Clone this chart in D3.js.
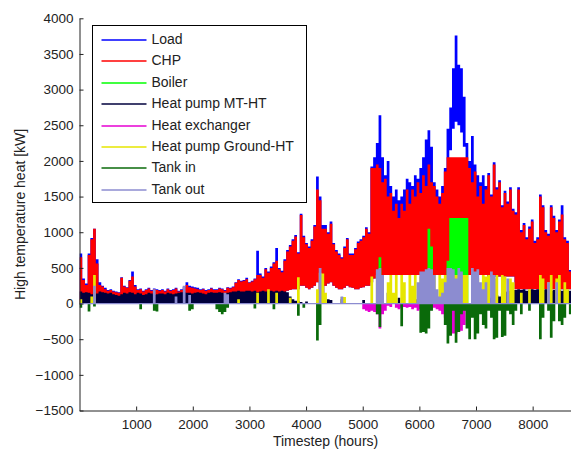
<!DOCTYPE html>
<html>
<head>
<meta charset="utf-8">
<script src="https://cdn.jsdelivr.net/npm/d3@7"></script>
<style>
  body { margin: 0; background: #fff; }
  svg { display: block; font-family: "Liberation Sans", Arial, sans-serif; }
  .axis text { font-size: 13.5px; fill: #222; }
  .axis path, .axis line { stroke: #222; }
</style>
</head>
<body>
<svg width="571" height="450"></svg>
<script>
// hourly data, one value per 48 h block (max / min of the block)
var STEP = 48;

var loadHigh = [
  700, 350, 280, 700, 920, 1050, 620, 300, 250, 220,
  190, 200, 180, 170, 160, 370, 250, 230, 330, 450,
  260, 200, 210, 180, 200, 220, 190, 210, 200, 190,
  200, 180, 210, 190, 200, 220, 180, 200, 240, 300,
  250, 240, 230, 220, 200, 210, 190, 200, 220, 200,
  200, 220, 210, 190, 230, 220, 240, 300, 340, 320,
  330, 360, 300, 320, 350, 740, 420, 380, 500, 450,
  520, 580, 780, 500, 460, 620, 750, 820, 900, 960,
  720, 1260, 950, 850, 800, 900, 1100, 1780, 1500, 1100,
  1100, 1000, 1150, 850, 750, 700, 650, 800, 920, 700,
  700, 780, 870, 900, 950, 1070, 1000, 1920, 2050, 2250,
  2640, 2050, 1800, 2000, 1650, 1500, 1600, 1450, 1500, 1600,
  1750, 1700, 1650, 1800, 1750, 1900, 2050, 2300, 2430, 2200,
  1700, 1600, 1500, 1650, 1900, 2450, 2750, 3300, 3760, 3350,
  3300, 2900, 2250, 2000, 2350, 1950, 1800, 1700, 1800, 1650,
  1830, 1530, 1980, 1630, 1730, 1380, 1580, 1430, 1630, 1330,
  1280, 1630, 1030, 1130, 930, 1080, 1180, 880, 930, 1530,
  1380, 1030, 980, 1380, 1230, 1030, 1180, 1380, 930, 880,
  470, 320, 270
];
var loadLow = [
  0, 0, 0, 0, 0, 0, 0, 0, 0, 0,
  0, 0, 0, 0, 0, 0, 0, 0, 0, 0,
  0, 0, 0, 0, 0, 0, 0, 0, 0, 0,
  0, 0, 0, 0, 0, 0, 0, 0, 0, 0,
  0, 0, 0, 0, 0, 0, 0, 0, 0, 0,
  0, 0, 0, 0, 0, 0, 0, 0, 0, 0,
  0, 0, 0, 0, 0, 0, 0, 0, 0, 0,
  0, 0, 0, 0, 100, 150, 180, 190, 200, 200,
  200, 250, 250, 220, 200, 220, 250, 300, 0, 0,
  250, 280, 300, 250, 220, 200, 200, 220, 250, 230,
  220, 200, 200, 220, 230, 250, 250, 300, 350, 400,
  400, 400, 400, 400, 400, 400, 400, 400, 400, 400,
  400, 400, 400, 400, 400, 400, 400, 400, 400, 400,
  400, 400, 400, 400, 400, 400, 2150, 2450, 2550, 2500,
  2400, 2200, 400, 400, 400, 400, 400, 400, 400, 400,
  380, 380, 380, 380, 380, 380, 380, 380, 380, 380,
  200, 200, 200, 200, 200, 200, 200, 200, 200, 200,
  200, 200, 200, 200, 200, 200, 200, 200, 200, 200,
  200, 200, 200
];
var chpHigh = [
  650, 330, 260, 680, 900, 1050, 560, 260, 240, 200,
  180, 190, 170, 160, 150, 360, 240, 220, 320, 380,
  240, 190, 200, 170, 190, 210, 180, 200, 190, 180,
  190, 170, 200, 180, 190, 210, 170, 190, 230, 260,
  230, 220, 210, 200, 190, 200, 180, 190, 210, 190,
  190, 210, 200, 180, 220, 210, 230, 290, 330, 310,
  320, 340, 290, 310, 340, 400, 400, 360, 480, 430,
  500, 560, 600, 480, 440, 600, 730, 800, 880, 940,
  700, 1240, 930, 830, 780, 880, 1080, 1600, 1450, 1050,
  1050, 980, 1120, 830, 730, 680, 630, 780, 900, 680,
  680, 760, 850, 880, 930, 1050, 980, 1900, 1900, 1950,
  1900, 1700, 1750, 1500, 1550, 1300, 1400, 1200, 1400, 1300,
  1600, 1400, 1600, 1500, 1700, 1550, 1800, 1650, 1950, 1700,
  1650, 1500, 1400, 1550, 1850, 2050, 2050, 2050, 2050, 2050,
  2050, 2050, 2050, 1900, 1700, 1850, 1500, 1650, 1400, 1600,
  1800, 1500, 1950, 1600, 1700, 1350, 1550, 1400, 1600, 1300,
  1250, 1600, 1000, 1100, 900, 1050, 1150, 850, 900, 1500,
  1350, 1000, 950, 1350, 1200, 1000, 1150, 1250, 900, 850,
  450, 300, 250
];
var chpLow = [
  0, 0, 0, 0, 0, 0, 0, 0, 0, 0,
  0, 0, 0, 0, 0, 0, 0, 0, 0, 0,
  0, 0, 0, 0, 0, 0, 0, 0, 0, 0,
  0, 0, 0, 0, 0, 0, 0, 0, 0, 0,
  0, 0, 0, 0, 0, 0, 0, 0, 0, 0,
  0, 0, 0, 0, 0, 0, 0, 0, 0, 0,
  0, 0, 0, 0, 0, 0, 0, 0, 0, 0,
  0, 0, 0, 0, 100, 150, 180, 190, 200, 200,
  200, 250, 250, 220, 200, 220, 250, 300, 0, 0,
  250, 280, 300, 250, 220, 200, 200, 220, 250, 230,
  220, 200, 200, 220, 230, 250, 250, 300, 350, 400,
  400, 400, 400, 400, 400, 400, 400, 400, 400, 400,
  400, 400, 400, 400, 400, 400, 400, 400, 400, 400,
  400, 400, 400, 400, 400, 400, 400, 400, 400, 400,
  400, 400, 400, 400, 400, 400, 400, 400, 400, 400,
  380, 380, 380, 380, 380, 380, 380, 380, 380, 380,
  200, 200, 200, 200, 200, 200, 200, 200, 200, 200,
  200, 200, 200, 200, 200, 200, 200, 200, 200, 200,
  200, 200, 200
];
var boiler = [
  0, 0, 0, 0, 0, 0, 0, 0, 0, 0,
  0, 0, 0, 0, 0, 0, 0, 0, 0, 0,
  0, 0, 0, 0, 0, 0, 0, 0, 0, 0,
  0, 0, 0, 0, 0, 0, 0, 0, 0, 0,
  0, 0, 0, 0, 0, 0, 0, 0, 0, 0,
  0, 0, 0, 0, 0, 0, 0, 0, 0, 0,
  0, 0, 0, 0, 0, 0, 0, 0, 0, 0,
  0, 0, 0, 0, 0, 0, 0, 0, 0, 0,
  0, 0, 0, 0, 0, 0, 0, 0, 0, 0,
  0, 0, 0, 0, 0, 0, 0, 0, 0, 0,
  0, 0, 0, 0, 0, 0, 0, 0, 0, 0,
  650, 0, 0, 0, 0, 0, 0, 0, 0, 0,
  0, 0, 0, 0, 0, 0, 0, 0, 1050, 800,
  0, 0, 0, 0, 0, 600, 1200, 1200, 1200, 1200,
  1200, 1200, 1200, 0, 0, 0, 0, 0, 0, 0,
  0, 0, 0, 0, 0, 0, 0, 0, 0, 0,
  0, 0, 0, 0, 0, 0, 0, 0, 0, 0,
  0, 0, 0, 0, 0, 0, 0, 0, 0, 0,
  0, 0, 0
];
var hpMtHt = [
  170, 150, 160, 150, 130, 120, 140, 170, 160, 150,
  140, 150, 130, 120, 110, 130, 150, 140, 160, 150,
  130, 150, 140, 120, 130, 150, 140, 120, 130, 140,
  140, 130, 150, 140, 130, 140, 150, 160, 160, 150,
  150, 140, 150, 160, 150, 140, 130, 150, 160, 150,
  150, 160, 150, 140, 150, 160, 170, 170, 180, 170,
  170, 180, 180, 170, 180, 160, 170, 180, 170, 180,
  180, 170, 180, 170, 180, 170, 160, 100, 60, 40,
  40, 20, 0, 30, 0, 0, 0, 20, 0, 0,
  0, 60, 50, 0, 0, 0, 60, 0, 0, 0,
  0, 0, 0, 0, 50, 0, 0, 0, 0, 0,
  0, 0, 0, 150, 0, 0, 0, 80, 0, 0,
  0, 0, 80, 60, 0, 0, 0, 0, 0, 60,
  0, 0, 0, 0, 0, 0, 0, 0, 0, 0,
  0, 0, 0, 0, 0, 0, 0, 0, 0, 60,
  0, 80, 100, 120, 100, 140, 160, 170, 180, 190,
  190, 200, 190, 200, 180, 190, 200, 190, 200, 180,
  190, 200, 190, 180, 190, 200, 190, 180, 200, 190,
  180, 170, 150
];
var heatExchanger = [
  0, 0, 0, 0, 0, 0, 0, 0, 0, 0,
  0, 0, 0, 0, 0, 0, 0, 0, 0, 0,
  0, 0, 0, 0, 0, 0, 0, 0, 0, 0,
  0, 0, 0, 0, 0, 0, 0, 0, 0, 0,
  0, 0, 0, 0, 0, 0, 0, 0, 0, 0,
  0, 0, 0, 0, 0, 0, 0, 0, 0, 0,
  0, 0, 0, 0, 0, 0, 0, 0, 0, 0,
  0, 0, 0, 0, 0, 0, 0, 0, 0, 0,
  0, 0, 0, 0, 0, 0, 0, 0, 0, 0,
  0, 0, 0, 0, 0, 0, 0, 0, 0, 0,
  0, 0, 0, 0, -80, -100, -120, -100, -120, -150,
  -350, -150, -100, -30, -50, 0, -60, -80, -60, -50,
  -60, -50, -80, -60, -100, -80, -100, -60, -50, -80,
  -60, -80, -100, -150, -200, -300, -400, -420, -420, -400,
  -380, -300, -100, -50, -30, -40, -60, -30, -50, -40,
  -30, -50, -20, -40, -30, -20, -50, -30, -20, -10,
  0, 0, 0, 0, 0, 0, 0, 0, 0, 0,
  0, 0, 0, 0, 0, 0, 0, 0, 0, 0,
  0, 0, 0
];
var hpGroundHt = [
  60, 0, 0, 0, 100, 400, 0, 0, 0, 0,
  0, 0, 0, 0, 0, 0, 0, 0, 0, 0,
  0, 0, 0, 0, 0, 0, 0, 0, 0, 0,
  0, 0, 0, 0, 0, 0, 0, 0, 0, 0,
  0, 0, 0, 0, 0, 0, 0, 0, 0, 0,
  0, 0, 0, 0, 0, 0, 0, 0, 60, 0,
  0, 0, 0, 0, 0, 150, 0, 0, 0, 200,
  0, 0, 150, 0, 0, 0, 0, 80, 0, 0,
  370, 0, 0, 0, 0, 0, 0, 200, 430, 420,
  150, 0, 0, 0, 0, 0, 90, 90, 0, 0,
  0, 0, 0, 0, 0, 0, 0, 380, 0, 400,
  350, 400, 0, 300, 400, 150, 400, 0, 400, 300,
  0, 400, 250, 400, 0, 380, 400, 300, 0, 400,
  400, 0, 400, 350, 400, 400, 400, 400, 400, 400,
  400, 400, 400, 0, 400, 400, 350, 0, 400, 380,
  400, 0, 350, 400, 0, 400, 380, 0, 350, 300,
  0, 0, 150, 0, 0, 200, 0, 0, 0, 400,
  350, 0, 300, 400, 0, 350, 400, 0, 300, 200,
  0, 0, 0
];
var tankIn = [
  -60, 0, 0, -110, 0, -40, 0, 0, 0, 0,
  0, 0, 0, 0, 0, 0, 0, 0, 0, 0,
  0, 0, -80, 0, 0, 0, 0, -100, -110, 0,
  0, 0, 0, 0, 0, 0, 0, 0, 0, 0,
  -100, -80, 0, 0, 0, 0, 0, 0, 0, 0,
  -80, -120, -150, -120, -60, 0, 0, 0, 0, 0,
  0, 0, 0, 0, -70, 0, 0, 0, 0, 0,
  0, -80, 0, 0, 0, 0, 0, 0, 0, 0,
  -170, 0, -60, 0, 0, 0, 0, -520, -300, 0,
  0, 0, 0, 0, 0, 0, 0, 0, 0, 0,
  0, 0, 0, 0, 0, 0, 0, 0, 0, -150,
  -330, 0, 0, 0, 0, 0, 0, 0, -320, 0,
  0, 0, 0, 0, 0, -410, -400, -420, -350, -100,
  0, 0, 0, 0, -300, -560, -450, -100, -550, -400,
  -150, -100, -350, -500, -200, -500, -420, -150, -300, -350,
  -100, -200, -500, -480, -100, -470, -450, -100, -150, -300,
  -100, 0, -150, 0, 0, -100, 0, 0, 0, -500,
  -200, 0, -100, -480, -250, 0, -250, -300, -200, 0,
  -150, 0, 0
];
var tankOut = [
  0, 0, 0, 0, 0, 250, 0, 0, 0, 0,
  0, 0, 0, 0, 0, 0, 0, 0, 0, 0,
  0, 0, 0, 0, 0, 0, 0, 200, 0, 0,
  0, 0, 0, 0, 0, 100, 0, 0, 250, 0,
  120, 0, 0, 0, 0, 0, 0, 0, 0, 0,
  0, 0, 0, 150, 130, 0, 0, 0, 0, 0,
  0, 0, 0, 0, 0, 0, 0, 0, 0, 0,
  0, 0, 0, 0, 0, 0, 0, 0, 0, 0,
  0, 0, 0, 0, 0, 0, 0, 0, 500, 0,
  0, 0, 0, 0, 0, 0, 100, 0, 0, 0,
  0, 0, 0, 0, 0, 0, 0, 0, 0, 480,
  500, 400, 0, 0, 0, 0, 0, 0, 0, 0,
  0, 0, 0, 0, 300, 450, 450, 480, 500, 480,
  400, 200, 100, 150, 300, 500, 500, 480, 350, 500,
  450, 0, 0, 0, 500, 450, 480, 300, 200, 300,
  0, 450, 400, 0, 0, 0, 0, 350, 0, 0,
  0, 0, 0, 0, 0, 0, 0, 0, 0, 0,
  0, 0, 300, 0, 0, 300, 0, 0, 0, 0,
  0, 0, 0
];

var xTicks = [1000, 2000, 3000, 4000, 5000, 6000, 7000, 8000];
var yTicks = [-1500, -1000, -500, 0, 500, 1000, 1500, 2000, 2500, 3000, 3500, 4000];
var HOURS = 8760;

var svg = d3.select("svg");

var x = d3.scaleLinear().domain([0, HOURS]).range([79.5, 575.7]);
var y = d3.scaleLinear().domain([-1500, 4000]).range([410.5, 18.3]);

// draw order as in the original plot: later series on top
var series = [
  { name: "Load", color: "#0000ff", hi: loadHigh, lo: loadLow },
  { name: "CHP", color: "#ff0000", hi: chpHigh, lo: chpLow },
  { name: "Boiler", color: "#00ff00", hi: boiler },
  { name: "Heat pump MT-HT", color: "#00003c", hi: hpMtHt },
  { name: "Heat exchanger", color: "#e600d2", hi: heatExchanger },
  { name: "Heat pump Ground-HT", color: "#e6e600", hi: hpGroundHt },
  { name: "Tank in", color: "#0a6a0a", hi: tankIn },
  { name: "Tank out", color: "#8c8cd0", hi: tankOut }
];

function toPoints(s) {
  var pts = s.hi.map(function (v, i) {
    var lo = s.lo ? s.lo[i] : 0;
    return { h: i * STEP, a: Math.min(v, lo), b: Math.max(v, lo) };
  });
  var last = pts[pts.length - 1];
  pts.push({ h: HOURS, a: last.a, b: last.b });
  return pts;
}

svg.append("clipPath").attr("id", "plotclip")
  .append("rect")
  .attr("x", x(0)).attr("y", y(4000))
  .attr("width", x(HOURS) - x(0)).attr("height", y(-1500) - y(4000));

var plot = svg.append("g").attr("clip-path", "url(#plotclip)");

var area = d3.area()
  .x(function (d) { return x(d.h); })
  .y0(function (d) { return y(d.a); })
  .y1(function (d) { return y(d.b); })
  .curve(d3.curveStepAfter);

series.forEach(function (s) {
  plot.append("path")
    .datum(toPoints(s))
    .attr("fill", s.color)
    .attr("d", area);
});

// Tank out sits at zero most of the year, showing as a line along the baseline
plot.append("line")
  .attr("x1", x(0)).attr("x2", x(HOURS))
  .attr("y1", y(0)).attr("y2", y(0))
  .attr("stroke", "#8c8cd0").attr("stroke-width", 1.2);

// axes, ticks pointing inward like MATLAB
svg.append("g")
  .attr("class", "axis")
  .attr("transform", "translate(" + x(0) + ",0)")
  .call(d3.axisLeft(y).tickValues(yTicks).tickFormat(d3.format("d"))
    .tickSizeInner(-4).tickSizeOuter(0).tickPadding(6));

svg.append("g")
  .attr("class", "axis")
  .attr("transform", "translate(0," + y(-1500) + ")")
  .call(d3.axisBottom(x).tickValues(xTicks).tickFormat(d3.format("d"))
    .tickSizeInner(-4).tickSizeOuter(0).tickPadding(9));

svg.append("text")
  .attr("transform", "translate(25," + ((y(4000) + y(-1500)) / 2) + ") rotate(-90)")
  .attr("text-anchor", "middle")
  .style("font-size", "14px").style("fill", "#222")
  .text("High temperature heat [kW]");

svg.append("text")
  .attr("x", (x(0) + x(HOURS)) / 2 - 2)
  .attr("y", 446)
  .attr("text-anchor", "middle")
  .style("font-size", "14px").style("fill", "#222")
  .text("Timestep (hours)");

// legend
var legend = svg.append("g").attr("transform", "translate(92.5,25.5)");
legend.append("rect")
  .attr("width", 214).attr("height", 177)
  .attr("fill", "#fff").attr("stroke", "#000").attr("stroke-width", 1);

var entry = legend.selectAll("g.entry").data(series).enter()
  .append("g").attr("class", "entry")
  .attr("transform", function (d, i) { return "translate(0," + Math.round(14 + i * 21.4) + ")"; });

entry.append("line")
  .attr("x1", 9).attr("x2", 54)
  .attr("y1", 0.5).attr("y2", 0.5)
  .attr("stroke", function (d) { return d.color; })
  .attr("stroke-opacity", 0.75)
  .attr("stroke-width", 2);

entry.append("text")
  .attr("x", 59).attr("dy", "0.35em")
  .style("font-size", "14px").style("fill", "#222")
  .text(function (d) { return d.name; });
</script>
</body>
</html>
